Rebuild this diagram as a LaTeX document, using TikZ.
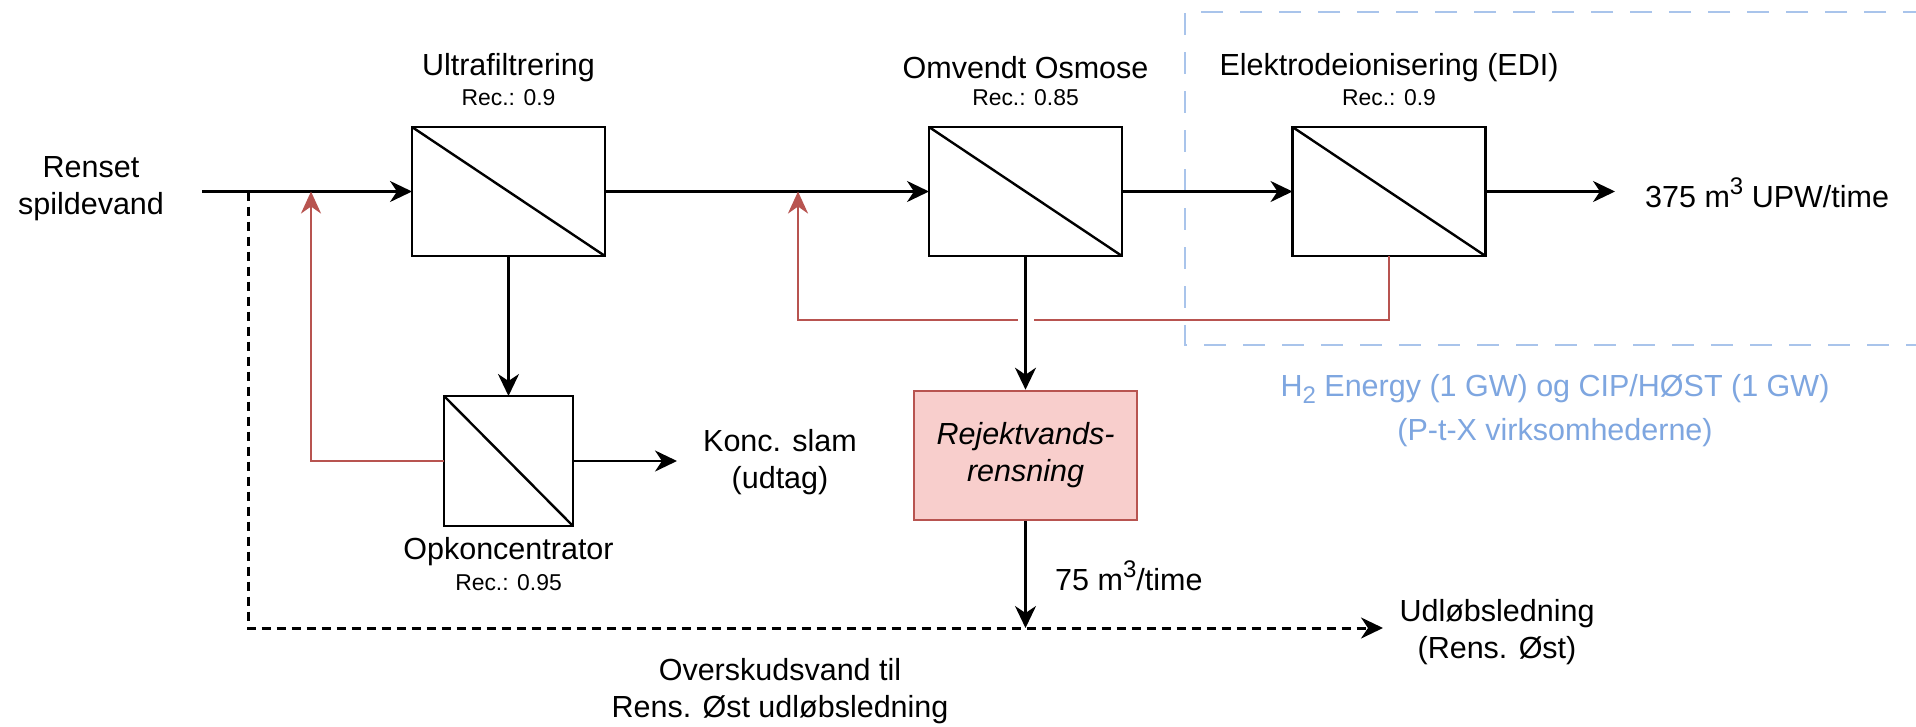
\documentclass[tikz,border=0pt]{standalone}
\usepackage{fontspec}
\setmainfont{Liberation Sans}
\usetikzlibrary{arrows.meta,calc}
\definecolor{recred}{HTML}{B85450}
\definecolor{pinkfill}{HTML}{F8CECC}
\definecolor{bluetext}{HTML}{7EA6E0}
\definecolor{bluedash}{HTML}{A9C4EB}
\newcommand\myup[1]{\raisebox{0.42em}{\fontsize{24}{24}\selectfont #1}}
\newcommand\mydown[1]{\raisebox{-0.22em}{\fontsize{24}{24}\selectfont #1}}
\begin{document}
\begin{tikzpicture}[x=1pt,y=-1pt,
  big/.style={font=\fontsize{30.5}{37}\selectfont, inner sep=0pt, align=center},
  small/.style={font=\fontsize{22.9}{27}\selectfont, inner sep=0pt},
  memb/.style={draw, line width=2.8pt, minimum width=193pt, minimum height=129pt,
    inner sep=0pt, outer sep=0pt,
    path picture={\draw[line width=2.4pt] (path picture bounding box.north west) -- (path picture bounding box.south east);}},
  flow/.style={line width=2.8pt, -{Stealth[length=22pt,width=21pt,inset=7pt]}},
  recyc/.style={draw=recred, line width=2.6pt, -{Stealth[length=22pt,width=20pt,inset=7pt]}},
  overflow/.style={line width=3pt, dash pattern=on 9pt off 6pt, -{Stealth[length=22pt,width=21pt,inset=7pt]}},
  zone/.style={draw=bluedash, line width=2.6pt, dash pattern=on 22pt off 17pt}
]
\useasboundingbox (0,0) rectangle (1916,726);
\fill[white] (0,0) rectangle (1916,726);

% zone of P-t-X
\draw[zone] (1925,12) -- (1185,12) -- (1185,345) -- (1925,345);
\node[big, text=bluetext, font=\fontsize{30.5}{44}\selectfont] (ptx) at (1555,411)
  {H\mydown{2} Energy (1 GW) og CIP/HØST (1 GW)\\(P-t-X virksomhederne)};

% process units
\node[memb] (uf) at (508.5,191.5) {};
\node[memb] (ro) at (1025.5,191.5) {};
\node[memb] (edi) at (1389,191.5) {};
\node[memb, minimum width=129pt, minimum height=130pt] (ok) at (508.5,461) {};
\node[draw=recred, fill=pinkfill, line width=2.6pt, minimum width=223pt, minimum height=129pt,
  inner sep=0pt, big, font=\fontsize{30.5}{37}\selectfont\itshape] (rej) at (1025.5,455.5)
  {Rejektvands-\\rensning};

% titles
\node[big] (uftitle) at (508.5,68) {Ultrafiltrering};
\node[small] (ufrec) at (508.5,98) {Rec.: 0.9};
\node[big] (rotitle) at (1025.5,68) {Omvendt Osmose};
\node[small] (rorec) at (1025.5,98) {Rec.: 0.85};
\node[big] (edititle) at (1389,68) {Elektrodeionisering (EDI)};
\node[small] (edirec) at (1389,98) {Rec.: 0.9};
\node[big] (oktitle) at (508.5,552) {Opkoncentrator};
\node[small] (okrec) at (508.5,583) {Rec.: 0.95};

% other texts
\node[big] (inlabel) at (91,189) {Renset\\spildevand};
\node[big] (konc) at (780,462) {Konc. slam\\(udtag)};
\node[big, anchor=west] (upw) at (1645,193) {375 m\myup{3} UPW/time};
\node[big, anchor=west] (t75) at (1055,576) {75 m\myup{3}/time};
\node[big] (udl) at (1497,632) {Udløbsledning\\(Rens. Øst)};
\node[big] (over) at (780,691) {Overskudsvand til\\Rens. Øst udløbsledning};

% coordinates
\coordinate (instart) at (202,191.5);
\coordinate (tap) at (248,191.5);
\coordinate (dc) at (248,628);
\coordinate (udlin) at (1383,628);
\coordinate (upwin) at (1615,191.5);
\coordinate (koncin) at (677,461);
\coordinate (r1) at (311,191.5);
\coordinate (rc) at (798,320);
\coordinate (r2) at (798,191.5);

% overflow dashed
\draw[overflow] (tap) -- (dc) -- (udlin);

% main flow
\draw[flow] (instart) -- (uf.west);
\draw[flow] (uf.east) -- (ro.west);
\draw[flow] (ro.east) -- (edi.west);
\draw[flow] (edi.east) -- (upwin);
\draw[flow] (uf.south) -- (ok.north);
\draw[flow] (ok.east) -- (koncin);

% recycle lines
\draw[recyc] (ok.west) -| (r1);
\draw[recyc] (edi.south) |- (rc) -- (r2);
\draw[white, line width=5pt] ($(ro.south |- rc)+(-8,0)$) -- ($(ro.south |- rc)+(8,0)$);

\draw[flow, line width=2.4pt] (ro.south) -- (rej.north);
\draw[flow, line width=2.4pt] (rej.south) -- (rej.south |- dc);
\end{tikzpicture}
\end{document}
